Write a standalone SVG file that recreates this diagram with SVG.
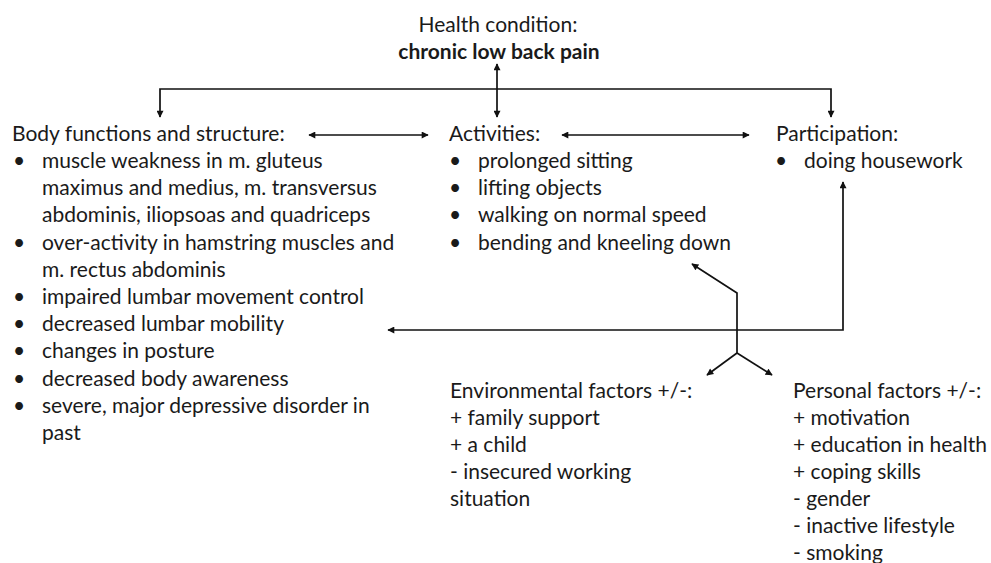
<svg xmlns="http://www.w3.org/2000/svg" width="991" height="563" viewBox="0 0 991 563">
<defs>
<style>
text{font-family:Lato,"Open Sans","Liberation Sans",sans-serif;font-size:21px;fill:#1a1a1a}
.b{font-weight:bold}
.c{text-anchor:middle}
.con{stroke:#111;stroke-width:1.7;fill:none}
</style>
<marker id="ah" viewBox="0 0 10 10" refX="9" refY="5" markerWidth="8" markerHeight="7" markerUnits="userSpaceOnUse" orient="auto-start-reverse">
<path d="M0,0 L10,5 L0,10 z" fill="#111"/>
</marker>
</defs>
<rect width="991" height="563" fill="#fff"/>
<g id="connectors">
<line class="con" x1="497" y1="64" x2="497" y2="117" marker-start="url(#ah)" marker-end="url(#ah)"/>
<polyline class="con" points="160,117 160,89 831,89 831,117" marker-start="url(#ah)" marker-end="url(#ah)"/>
<line class="con" x1="309" y1="135" x2="428" y2="135" marker-start="url(#ah)" marker-end="url(#ah)"/>
<line class="con" x1="562" y1="135" x2="749" y2="135" marker-start="url(#ah)" marker-end="url(#ah)"/>
<polyline class="con" points="843,182 843,330 388,330" marker-start="url(#ah)" marker-end="url(#ah)"/>
<polyline class="con" points="692,264 737,293 737,353" marker-start="url(#ah)"/>
<line class="con" x1="737" y1="353" x2="707" y2="375" marker-end="url(#ah)"/>
<line class="con" x1="737" y1="353" x2="772" y2="375" marker-end="url(#ah)"/>
</g>
<g id="health">
<text class="c" x="498" y="32">Health condition:</text>
<text class="c b" x="499" y="59">chronic low back pain</text>
</g>
<g id="body">
<text x="12" y="141">Body functions and structure:</text>
<text class="c" x="19" y="168">•</text><text x="42" y="168">muscle weakness in m. gluteus</text>
<text x="42" y="195">maximus and medius, m. transversus</text>
<text x="42" y="222">abdominis, iliopsoas and quadriceps</text>
<text class="c" x="19" y="250">•</text><text x="42" y="250">over-activity in hamstring muscles and</text>
<text x="42" y="277">m. rectus abdominis</text>
<text class="c" x="19" y="304">•</text><text x="42" y="304">impaired lumbar movement control</text>
<text class="c" x="19" y="331">•</text><text x="42" y="331">decreased lumbar mobility</text>
<text class="c" x="19" y="358">•</text><text x="42" y="358">changes in posture</text>
<text class="c" x="19" y="386">•</text><text x="42" y="386">decreased body awareness</text>
<text class="c" x="19" y="413">•</text><text x="42" y="413">severe, major depressive disorder in</text>
<text x="42" y="440">past</text>
</g>
<g id="activities">
<text x="449" y="141">Activities:</text>
<text class="c" x="455" y="168">•</text><text x="478" y="168">prolonged sitting</text>
<text class="c" x="455" y="195">•</text><text x="478" y="195">lifting objects</text>
<text class="c" x="455" y="222">•</text><text x="478" y="222">walking on normal speed</text>
<text class="c" x="455" y="250">•</text><text x="478" y="250">bending and kneeling down</text>
</g>
<g id="participation">
<text x="776" y="141">Participation:</text>
<text class="c" x="781" y="168">•</text><text x="804" y="168">doing housework</text>
</g>
<g id="environmental">
<text x="450" y="398">Environmental factors +/-:</text>
<text x="450" y="425">+ family support</text>
<text x="450" y="452">+ a child</text>
<text x="450" y="479">- insecured working</text>
<text x="450" y="506">situation</text>
</g>
<g id="personal">
<text x="793" y="398">Personal factors +/-:</text>
<text x="793" y="425">+ motivation</text>
<text x="793" y="452">+ education in health</text>
<text x="793" y="479">+ coping skills</text>
<text x="793" y="506">- gender</text>
<text x="793" y="533">- inactive lifestyle</text>
<text x="793" y="560">- smoking</text>
</g>
</svg>
